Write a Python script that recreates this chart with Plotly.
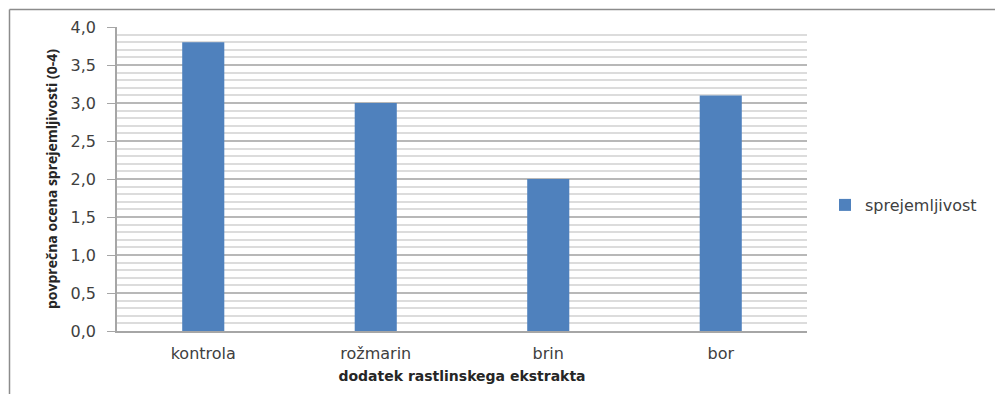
import plotly.graph_objects as go

categories = ["kontrola", "rožmarin", "brin", "bor"]
acceptability = [3.8, 3.0, 2.0, 3.1]
series_name = "sprejemljivost"
y_ticks = [0.0, 0.5, 1.0, 1.5, 2.0, 2.5, 3.0, 3.5, 4.0]

W, H = 995, 394
L, R, T, B = 117, 188, 27, 63
pw, ph = W - L - R, H - T - B

label_font = "DejaVu Sans, Open Sans, sans-serif"

fig = go.Figure(
    go.Bar(
        x=categories,
        y=acceptability,
        name=series_name,
        marker=dict(color="#4f81bd", line=dict(width=0)),
        showlegend=True,
    )
)

fig.update_layout(
    width=W,
    height=H,
    margin=dict(l=L, r=R, t=T, b=B),
    paper_bgcolor="white",
    plot_bgcolor="white",
    separators=",.",
    bargap=0.756,
    font=dict(family=label_font, size=14, color="#404040"),
    legend=dict(
        x=(825 - L) / pw,
        y=(331 - 205) / ph,
        xanchor="left",
        yanchor="middle",
        font=dict(family=label_font, size=16, color="#404040"),
        bgcolor="rgba(0,0,0,0)",
    ),
    xaxis=dict(
        showline=True,
        linecolor="#a6a6a6",
        linewidth=1.5,
        ticks="",
        tickfont=dict(size=16),
        ticklabelstandoff=7,
        title=dict(
            text="<b>dodatek rastlinskega ekstrakta</b>",
            font=dict(family=label_font, size=14, color="#262626"),
            standoff=9,
        ),
    ),
    yaxis=dict(
        range=[0, 4],
        tickvals=y_ticks,
        tickformat=".1f",
        showline=True,
        linecolor="#a6a6a6",
        linewidth=1.5,
        ticks="outside",
        ticklen=8,
        tickcolor="#a6a6a6",
        tickfont=dict(size=16),
        ticklabelstandoff=8,
        showgrid=True,
        gridcolor="#b8b8b8",
        gridwidth=1.5,
        zeroline=False,
        minor=dict(dtick=0.1, showgrid=True, gridcolor="#dcdcdc", gridwidth=1.5),
        title=dict(
            text="<b>povprečna ocena sprejemljivosti (0-4)</b>",
            font=dict(family="Open Sans, sans-serif", size=14, color="#262626"),
            standoff=10,
        ),
    ),
)

# outer chart frame
fx0 = (9.5 - L) / pw
fy1 = (H - B - 9.5) / ph
fig.add_shape(type="line", xref="paper", yref="paper", x0=fx0, x1=(W + 5 - L) / pw,
              y0=fy1, y1=fy1, line=dict(color="#8c8c8c", width=1.5))
fig.add_shape(type="line", xref="paper", yref="paper", x0=fx0, x1=fx0,
              y0=fy1, y1=-(B + 5) / ph, line=dict(color="#8c8c8c", width=1.5))

fig.write_html("out.html")
